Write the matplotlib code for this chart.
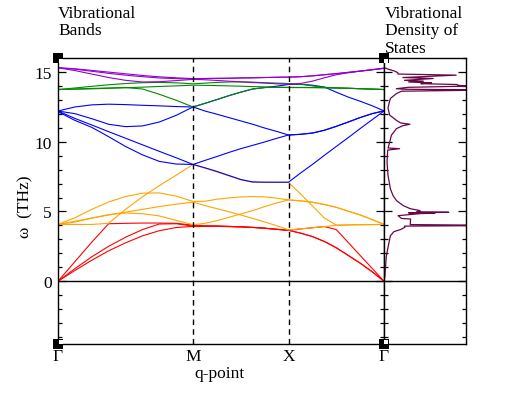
import numpy as np
import matplotlib
matplotlib.use('Agg')
import matplotlib.pyplot as plt
from matplotlib.patches import Rectangle
from matplotlib.ticker import MultipleLocator, NullLocator

plt.rcParams['font.family'] = ['Liberation Serif', 'DejaVu Serif']

# ---------------- data ----------------
path_labels = ['Γ', 'M', 'X', 'Γ']
segment_lengths = [np.sqrt(2), 1.0, 1.0]
frac_first = [0, .125, .25, .375, .5, .625, .75, .875, 1]
frac_next = [.125, .25, .375, .5, .625, .75, .875, 1]

red1 = [0, 0.77, 1.5, 2.18, 2.75, 3.25, 3.62, 3.85, 3.93,
        3.93, 3.93, 3.91, 3.89, 3.85, 3.8, 3.72, 3.65,
        3.45, 3.2, 2.85, 2.4, 1.85, 1.3, 0.68, 0]
red2 = [0, 0.9, 1.75, 2.5, 3.15, 3.7, 4.1, 4.12, 3.95,
        3.95, 3.95, 3.93, 3.9, 3.86, 3.8, 3.72, 3.65,
        3.45, 3.2, 2.85, 2.4, 1.85, 1.3, 0.68, 0]
red3 = [0, 1.4, 2.8, 4.12, 4.15, 4.17, 4.17, 4.15, 4.02,
        3.98, 3.96, 3.93, 3.9, 3.86, 3.8, 3.72, 3.65,
        3.75, 3.83, 3.92, 3.7, 2.78, 1.85, 0.93, 0]
orange1 = [4.07, 4.07, 4.07, 4.15, 5.15, 6.05, 6.85, 7.6, 8.37,
           8.1, 7.83, 7.55, 7.27, 7.08, 7.08, 7.08, 7.08,
           6.26, 5.4, 4.53, 4.03, 4.04, 4.05, 4.06, 4.07]
orange2 = [4.07, 4.3, 4.52, 4.75, 4.95, 5.15, 5.35, 5.52, 5.67,
           5.42, 5.2, 4.98, 4.75, 4.5, 4.25, 3.98, 3.68,
           3.75, 3.83, 3.92, 4.0, 4.03, 4.05, 4.06, 4.07]
orange3 = [4.07, 4.55, 5.15, 5.68, 6.07, 6.31, 6.33, 6.1, 5.72,
           5.73, 5.88, 5.97, 6.04, 6.07, 6.04, 5.95, 5.83,
           5.76, 5.66, 5.5, 5.3, 5.02, 4.75, 4.42, 4.07]
orange4 = [4.07, 4.24, 4.53, 4.77, 4.89, 4.84, 4.68, 4.36, 4.05,
           4.15, 4.34, 4.58, 4.82, 5.06, 5.35, 5.61, 5.83,
           5.76, 5.66, 5.5, 5.3, 5.02, 4.75, 4.42, 4.07]
blue1 = [12.15, 11.53, 11.03, 10.36, 9.66, 9.06, 8.59, 8.4, 8.37,
         8.13, 7.87, 7.58, 7.29, 7.12, 7.1, 7.1, 7.1,
         7.75, 8.37, 9.02, 9.66, 10.29, 10.94, 11.57, 12.2]
blue2 = [12.2, 11.67, 11.2, 10.72, 10.25, 9.78, 9.31, 8.85, 8.37,
         8.66, 8.94, 9.23, 9.5, 9.74, 9.98, 10.24, 10.48,
         10.53, 10.62, 10.82, 11.1, 11.41, 11.73, 12.01, 12.21]
blue3 = [12.2, 12.49, 12.64, 12.69, 12.66, 12.61, 12.57, 12.52, 12.49,
         12.2, 11.97, 11.73, 11.49, 11.25, 10.98, 10.74, 10.48,
         10.53, 10.62, 10.82, 11.1, 11.41, 11.73, 12.01, 12.21]
blue4 = [12.2, 12.01, 11.65, 11.25, 11.08, 11.13, 11.41, 11.89, 12.49,
         12.75, 13.02, 13.3, 13.55, 13.78, 13.88, 13.98, 14.1,
         14.12, 14.05, 13.92, 13.55, 13.2, 12.9, 12.58, 12.21]
green1 = [13.74, 13.78, 13.82, 13.85, 13.88, 13.78, 13.4, 12.97, 12.49,
          12.75, 13.02, 13.3, 13.55, 13.78, 13.88, 13.9, 13.9,
          13.89, 13.88, 13.87, 13.85, 13.83, 13.8, 13.77, 13.74]
green2 = [13.74, 13.76, 13.79, 13.83, 13.87, 13.91, 13.96, 14.0, 14.05,
          14.04, 14.02, 14.0, 13.98, 13.95, 13.93, 13.9, 13.88,
          13.88, 13.88, 13.87, 13.85, 13.83, 13.8, 13.77, 13.74]
green3 = [13.74, 13.85, 13.97, 14.08, 14.17, 14.23, 14.25, 14.22, 14.15,
          14.2, 14.25, 14.28, 14.29, 14.27, 14.23, 14.2, 14.17,
          14.12, 14.0, 13.9, 13.86, 13.83, 13.8, 13.77, 13.74]
purple1 = [15.3, 15.23, 15.11, 14.99, 14.87, 14.75, 14.65, 14.58, 14.52,
           14.53, 14.54, 14.55, 14.57, 14.58, 14.6, 14.62, 14.63,
           14.66, 14.72, 14.8, 14.88, 14.97, 15.06, 15.16, 15.27]
purple2 = [15.3, 15.1, 14.85, 14.6, 14.4, 14.28, 14.3, 14.38, 14.47,
           14.44, 14.39, 14.34, 14.29, 14.24, 14.2, 14.15, 14.12,
           14.17, 14.34, 14.58, 14.8, 14.94, 15.06, 15.16, 15.25]
purple3 = [15.3, 15.2, 15.05, 14.9, 14.77, 14.66, 14.57, 14.52, 14.5,
           14.53, 14.54, 14.55, 14.57, 14.58, 14.6, 14.62, 14.63,
           14.66, 14.72, 14.8, 14.88, 14.97, 15.06, 15.16, 15.27]

dos_freq = [-4.5, 0.0, 0.3, 0.86, 1.82, 2.78, 3.26, 3.55, 3.7, 3.86, 3.95, 3.98, 4.02,
            4.06, 4.1, 4.46, 4.5, 4.7, 4.85, 4.87, 4.9, 4.94, 4.98, 5.06, 5.2, 5.42,
            5.78, 6.14, 6.62, 7.58, 8.54, 9.4, 9.5, 9.55, 9.98, 10.46, 10.94, 11.15,
            11.25, 11.35, 11.53, 11.9, 12.4, 12.73, 13.1, 13.45, 13.62, 13.69, 13.72,
            13.76, 13.8, 13.9, 13.98, 14.05, 14.1, 14.16, 14.22, 14.28, 14.34, 14.4,
            14.53, 14.6, 14.77, 14.85, 14.94, 15.06, 15.2, 15.3, 15.4, 16.0]
dos_val = [0, 0, 0.01, 0.016, 0.029, 0.061, 0.078, 0.12, 0.2, 0.254, 0.25, 1.1, 1.1,
           0.32, 0.32, 0.324, 0.213, 0.172, 0.45, 0.62, 0.3, 0.79, 0.4, 0.44, 0.32, 0.234,
           0.152, 0.11, 0.078, 0.049, 0.037, 0.045, 0.19, 0.05, 0.07, 0.09, 0.152, 0.23,
           0.316, 0.2, 0.152, 0.07, 0.049, 0.061, 0.078, 0.152, 0.213, 1.1, 1.1,
           0.25, 0.15, 0.3, 1.0, 0.9, 0.89, 0.45, 0.58, 0.3, 0.48, 0.25,
           0.6, 0.23, 0.88, 0.17, 0.17, 0.131, 0.05, 0.01, 0, 0]

band_groups = [
    ([red1, red2, red3], '#ff0000'),
    ([orange1, orange2, orange3, orange4], '#ffa500'),
    ([blue1, blue2, blue3, blue4], '#0000ff'),
    ([green1, green2, green3], '#008b00'),
    ([purple1, purple2, purple3], '#9400d3'),
]

# ---------------- figure ----------------
W, H = 521, 402
fig = plt.figure(figsize=(W / 100, H / 100), dpi=100)

def fx(px):
    return px / W

def fy(py):
    return 1 - py / H

left, right_b, right_d, top, bottom = 58, 384, 466, 59, 345
ax = fig.add_axes([fx(left), fy(bottom), fx(right_b - left), (bottom - top) / H])
axd = fig.add_axes([fx(right_b), fy(bottom), fx(right_d - right_b), (bottom - top) / H])

seg_start = np.concatenate([[0], np.cumsum(segment_lengths)])
q = np.concatenate([
    seg_start[0] + segment_lengths[0] * np.array(frac_first),
    seg_start[1] + segment_lengths[1] * np.array(frac_next),
    seg_start[2] + segment_lengths[2] * np.array(frac_next),
])

for bands, col in band_groups:
    for b in bands:
        ax.plot(q, b, color=col, lw=0.8, solid_joinstyle='miter')

for xv in seg_start[1:-1]:
    ax.axvline(xv, color='k', lw=1.0, dashes=(4, 3))
ax.axhline(0, color='k', lw=1.0)

ax.set_xlim(seg_start[0], seg_start[-1])
ax.set_ylim(-4.5, 16)
ax.set_xticks(seg_start)
ax.set_xticklabels(path_labels, fontsize=12.5)
ax.tick_params(axis='x', length=0, pad=3)
ax.yaxis.set_major_locator(MultipleLocator(5))
ax.yaxis.set_minor_locator(MultipleLocator(1))
ax.tick_params(axis='y', which='both', direction='in', left=True, right=True,
               labelsize=12.5, pad=4.5, width=0.9)
ax.tick_params(axis='y', which='major', length=5.5)
ax.tick_params(axis='y', which='minor', length=3.2)

axd.plot(dos_val, dos_freq, color='#670748', lw=0.9)
axd.axhline(0, color='k', lw=1.0)
axd.set_xlim(0, 1)
axd.set_ylim(-4.5, 16)
axd.xaxis.set_major_locator(NullLocator())
axd.yaxis.set_major_locator(MultipleLocator(5))
axd.yaxis.set_minor_locator(MultipleLocator(1))
axd.tick_params(axis='y', which='both', direction='in', left=True, right=True,
                labelleft=False, width=0.9)
axd.tick_params(axis='y', which='major', length=5.5)
axd.tick_params(axis='y', which='minor', length=3.2)

for a in (ax, axd):
    for s in a.spines.values():
        s.set_linewidth(1.0)

# corner markers
sq = 10
for cx, cy, nx, ny in [(left, top, 1, 1), (left, bottom, 1, -1),
                       (right_b, top, 1, 1), (right_b, bottom, 1, -1)]:
    fig.add_artist(Rectangle((fx(cx - sq / 2 - 0.5), fy(cy + sq / 2 - 0.5)), sq / W, sq / H,
                             transform=fig.transFigure, facecolor='k', edgecolor='none',
                             zorder=10))
    wx = cx + 0.5 if nx > 0 else cx - 4.5
    wy = cy + 4.5 if ny > 0 else cy - 0.5
    fig.add_artist(Rectangle((fx(wx), fy(wy)), 4 / W, 4 / H, transform=fig.transFigure,
                             facecolor='white', edgecolor='none', zorder=11))

# texts
fig.text(fx(58), fy(5.5), 'Vibrational\nBands', ha='left', va='top', fontsize=12.5,
         linespacing=1.15)
fig.text(fx(385), fy(5.5), 'Vibrational\nDensity of\nStates', ha='left', va='top',
         fontsize=12.5, linespacing=1.15)
fig.text(fx(25), fy(207), 'ω  (THz)', rotation=90, ha='center', va='center', fontsize=12.5)
fig.text(fx(219.5), fy(374), 'q-point', ha='center', va='center', fontsize=12.5)

fig.savefig('out.png', dpi=100)
